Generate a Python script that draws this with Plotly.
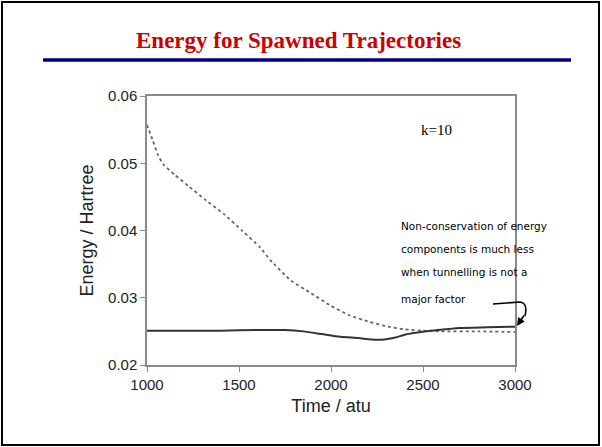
import plotly.graph_objects as go

# ---- data ----
time_dotted = [1000, 1030, 1060, 1090, 1150, 1230, 1320, 1420, 1520, 1614, 1670, 1780,
               1890, 2000, 2100, 2210, 2310, 2400, 2500, 2600, 2800, 3000]
energy_dotted = [0.0557, 0.0535, 0.0512, 0.0498, 0.0483, 0.0465, 0.0445, 0.0424, 0.0399,
                 0.0375, 0.0356, 0.0326, 0.0307, 0.0288, 0.0274, 0.0264, 0.0257, 0.0253,
                 0.0251, 0.0250, 0.0250, 0.0249]

time_solid = [1000, 1200, 1400, 1600, 1750, 1850, 1950, 2050, 2150, 2220, 2290, 2350,
              2400, 2460, 2540, 2620, 2700, 2850, 3000]
energy_solid = [0.0251, 0.0251, 0.0251, 0.0252, 0.0252, 0.0250, 0.0246, 0.0242, 0.0240,
                0.0238, 0.0238, 0.0241, 0.0245, 0.0248, 0.0251, 0.0253, 0.0255, 0.0256, 0.0257]

x_ticks = [1000, 1500, 2000, 2500, 3000]
y_ticks = [0.02, 0.03, 0.04, 0.05, 0.06]
y_tick_labels = ["0.02", "0.03", "0.04", "0.05", "0.06"]

title_text = "Energy for Spawned Trajectories"
note_lines = ["Non-conservation of energy", "components is much less",
              "when tunnelling is not a", "major factor"]

W, H = 602, 447
L, R, T, B = 147, 87, 96, 82
PW, PH = W - L - R, H - T - B


def px(x):
    return (x - L) / PW


def py(y):
    return (H - B - y) / PH


fig = go.Figure()
fig.add_trace(go.Scatter(x=time_dotted, y=energy_dotted, mode="lines",
                         line=dict(color="#666666", width=1.8, dash="dot", shape="spline", smoothing=0.5),
                         showlegend=False, hoverinfo="skip"))
fig.add_trace(go.Scatter(x=time_solid, y=energy_solid, mode="lines",
                         line=dict(color="#333333", width=2, shape="spline", smoothing=0.6),
                         showlegend=False, hoverinfo="skip"))

axis_common = dict(showgrid=False, zeroline=False, showline=True, linecolor="#8a8a8a",
                   linewidth=1.5, mirror=True, ticks="outside", ticklen=5, tickcolor="#8a8a8a",
                   tickfont=dict(family="Liberation Sans, Arial", size=15, color="#222222"))

fig.update_xaxes(range=[1000, 3000], tickvals=x_ticks,
                 title=dict(text="Time / atu", font=dict(family="Liberation Sans, Arial", size=18, color="#222222"), standoff=8),
                 **axis_common)
fig.update_yaxes(range=[0.02, 0.06], tickvals=y_ticks, ticktext=y_tick_labels,
                 title=dict(text="Energy / Hartree", font=dict(family="Liberation Sans, Arial", size=18, color="#222222"), standoff=10),
                 **axis_common)

shapes = [
    # outer black frame
    dict(type="rect", xref="paper", yref="paper", x0=px(2), x1=px(599), y0=py(445), y1=py(2),
         line=dict(color="black", width=2)),
    # blue rule under title
    dict(type="line", xref="paper", yref="paper", x0=px(43), x1=px(571), y0=py(60), y1=py(60),
         line=dict(color="#000080", width=3.5)),
    # handwritten arrow path
    dict(type="path", xref="paper", yref="paper",
         path=f"M {px(493)},{py(304)} L {px(520)},{py(302)} Q {px(528)},{py(303)} {px(525)},{py(316)}",
         line=dict(color="black", width=1.6)),
]

annotations = [
    dict(text=f"<b>{title_text}</b>", xref="paper", yref="paper", x=px(298), y=py(40),
         xanchor="center", yanchor="middle", showarrow=False,
         font=dict(family="Liberation Serif, Times New Roman", size=23, color="#cc0000")),
    dict(text="k=10", xref="paper", yref="paper", x=px(436), y=py(130),
         xanchor="center", yanchor="middle", showarrow=False,
         font=dict(family="Liberation Serif, Times New Roman", size=15, color="black")),
    dict(text="", xref="paper", yref="paper", x=px(517), y=py(326), ax=8, ay=-12,
         axref="pixel", ayref="pixel", showarrow=True, arrowhead=2, arrowsize=1, arrowwidth=1.6,
         arrowcolor="black"),
]
note_y = [226, 249, 272, 299]
for txt, yy in zip(note_lines, note_y):
    annotations.append(dict(text=txt, xref="paper", yref="paper", x=px(399), y=py(yy),
                            xanchor="left", yanchor="middle", showarrow=False,
                            font=dict(family="DejaVu Sans", size=10.5, color="black")))

fig.update_layout(width=W, height=H, margin=dict(l=L, r=R, t=T, b=B, autoexpand=False),
                  paper_bgcolor="white", plot_bgcolor="white",
                  shapes=shapes, annotations=annotations)

fig.write_html("out.html", config={"displayModeBar": False},
               post_script="document.body.style.margin='0';")
